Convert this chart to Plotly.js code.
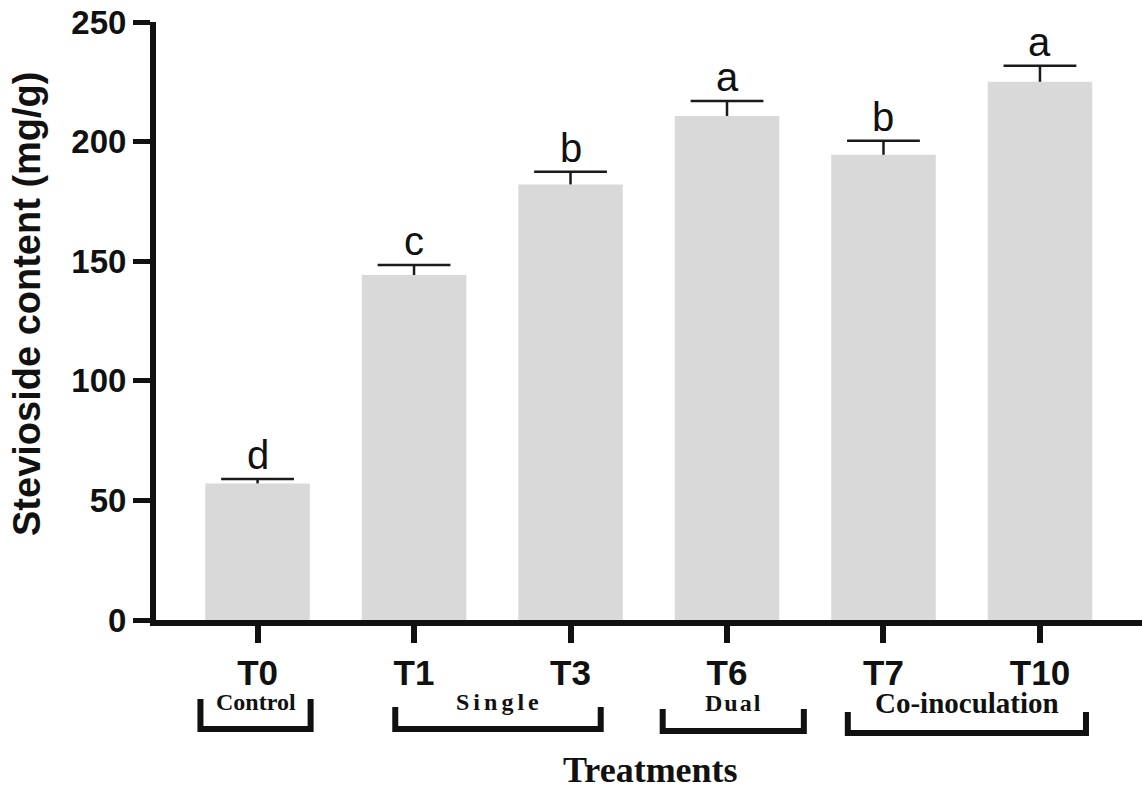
<!DOCTYPE html>
<html>
<head>
<meta charset="utf-8">
<script src="https://cdn.plot.ly/plotly-3.0.1.min.js"></script>
<style>html,body{margin:0;padding:0;background:#fff;}#chart{width:1142px;height:790px;}</style>
</head>
<body>
<div id="chart"></div>
<script>
// ---- data ----
const treatments = ["T0", "T1", "T3", "T6", "T7", "T10"];
const stevioside = [57.1, 144.2, 182.1, 210.7, 194.5, 225.0];
const stevioSE = [1.8, 4.2, 5.3, 6.3, 5.9, 6.7];
const letters = ["d", "c", "b", "a", "b", "a"];
const groupNames = ["Control", "S\u200A\u200Ai\u200A\u200An\u200A\u200Ag\u200A\u200Al\u200A\u200Ae", "D\u200Au\u200Aa\u200Al", "Co-inoculation"];
const groupStart = [0, 1, 3, 4];   // index of first treatment in group
const groupEnd = [0, 2, 3, 5];     // index of last treatment in group
const yTicks = [0, 50, 100, 150, 200, 250];

// ---- layout helpers ----
const W = 1142, H = 790;
const M = {l: 156, r: 0, t: 22, b: 170};
const plotH = H - M.t - M.b;
const plotW = W - M.l - M.r;
const py = (ypx) => (H - M.b - ypx) / plotH;     // pixel row -> paper y
const px = (xpx) => (xpx - M.l) / plotW;         // pixel col -> paper x

const LS = "Liberation Sans, Arial, Helvetica, sans-serif";
const SERIF = "Liberation Serif, Times New Roman, serif";
const INK = "#111";

const bars = {
  type: "bar",
  x: treatments,
  y: stevioside,
  marker: {color: "#d9d9d9", line: {width: 0}},
  error_y: {
    type: "data", symmetric: false,
    array: stevioSE, arrayminus: stevioSE.map(() => 0),
    color: "#1a1a1a", thickness: 2.5, width: 0
  },
  hoverinfo: "skip"
};
// upper caps of the error bars
const caps = {
  type: "scatter", mode: "markers",
  x: treatments,
  y: stevioside.map((v, i) => v + stevioSE[i]),
  marker: {symbol: "line-ew", size: 52, color: "#1a1a1a", line: {color: "#1a1a1a", width: 2.5}},
  hoverinfo: "skip", cliponaxis: false
};

const annotations = [];
// significance letters
treatments.forEach((t, i) => {
  annotations.push({
    x: t, y: stevioside[i] + stevioSE[i], xref: "x", yref: "y",
    text: letters[i], showarrow: false, yanchor: "middle", yshift: 24,
    font: {family: LS, size: 40, color: INK}
  });
});

// group brackets and labels
const bracketPad = [[0.365, 0.339], [0.12, 0.193], [0.411, 0.491], [0.228, 0.294]];
const bracketTop = [699, 707, 709, 712];
const bracketBot = [729, 729, 731, 733];
const labelY = [701.6, 701.6, 703.3, 702.5];
const labelSize = [24, 24, 24, 29];
const shapes = [];
groupNames.forEach((g, k) => {
  const x1 = groupStart[k] - bracketPad[k][0];
  const x2 = groupEnd[k] + bracketPad[k][1];
  const yt = py(bracketTop[k]), yb = py(bracketBot[k]);
  shapes.push({
    type: "path", xref: "x", yref: "paper",
    path: `M ${x1},${yt} L ${x1},${yb} L ${x2},${yb} L ${x2},${yt}`,
    line: {color: INK, width: 6}
  });
  annotations.push({
    x: (x1 + x2) / 2, y: py(labelY[k]), xref: "x", yref: "paper",
    text: g, showarrow: false, yanchor: "middle",
    font: {family: SERIF, size: labelSize[k], color: INK, weight: 700}
  });
});

// axis titles
annotations.push({
  x: px(650), y: py(770), xref: "paper", yref: "paper",
  text: "Treatments", showarrow: false, yanchor: "middle", xanchor: "center",
  font: {family: SERIF, size: 36, color: INK, weight: 700}
});
annotations.push({
  x: px(27), y: py(304), xref: "paper", yref: "paper",
  text: "Stevioside content (mg/g)", showarrow: false, textangle: -90,
  xanchor: "center", yanchor: "middle",
  font: {family: LS, size: 38, color: INK, weight: 700}
});

const layout = {
  width: W, height: H,
  margin: M,
  paper_bgcolor: "#fff", plot_bgcolor: "#fff",
  showlegend: false,
  bargap: 0.332,
  xaxis: {
    type: "category",
    range: [-0.649, 5.652],
    showline: true, linewidth: 6, linecolor: INK,
    ticks: "outside", ticklen: 17, tickwidth: 6, tickcolor: INK,
    showgrid: false, zeroline: false,
    tickfont: {family: LS, size: 35, color: INK, weight: 700},
    fixedrange: true
  },
  yaxis: {
    range: [0, 250],
    tickvals: yTicks, ticktext: yTicks.map(String),
    showline: true, linewidth: 6, linecolor: INK,
    ticks: "outside", ticklen: 17, tickwidth: 5, tickcolor: INK,
    showgrid: false, zeroline: false,
    tickfont: {family: LS, size: 33, color: INK, weight: 700},
    fixedrange: true
  },
  shapes: shapes,
  annotations: annotations
};

Plotly.newPlot("chart", [bars, caps], layout, {displayModeBar: false, staticPlot: true});
</script>
</body>
</html>
